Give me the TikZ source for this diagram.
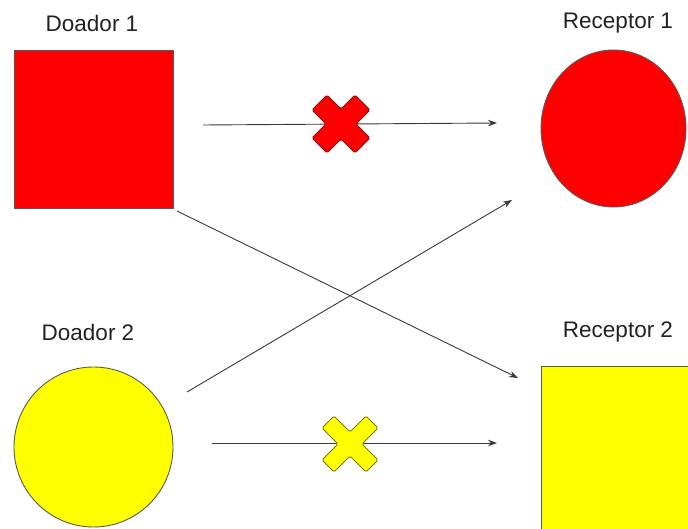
\documentclass[tikz,border=0pt]{standalone}
\usepackage{fontspec}
\setmainfont{Liberation Sans}
\usetikzlibrary{arrows.meta,shapes.geometric}
\definecolor{edgegray}{HTML}{5A5A5A}
\definecolor{arrowgray}{HTML}{3A3A3A}
\definecolor{xredborder}{HTML}{8A1010}
\definecolor{xyelborder}{HTML}{7A7A10}
\definecolor{txt}{HTML}{222222}
\definecolor{pured}{RGB}{255,0,0}
\definecolor{puryellow}{RGB}{255,255,0}
\begin{document}
\begin{tikzpicture}[x=1pt,y=-1pt,
  shapebox/.style={rectangle,draw=edgegray,line width=0.9pt,inner sep=0pt},
  shapecirc/.style={ellipse,draw=edgegray,line width=0.9pt,inner sep=0pt},
  lbl/.style={text=txt,font=\fontsize{22.5}{27}\selectfont,inner sep=0pt},
  conn/.style={draw=arrowgray,line width=0.9pt,-{Stealth[length=9pt,width=6.5pt]}},
  xred/.style={fill=pured,draw=xredborder,line width=1pt,rounded corners=1.5pt},
  xyel/.style={fill=puryellow,draw=xyelborder,line width=1pt,rounded corners=1.5pt}]
\fill[white] (0,0) rectangle (688,529);

% shapes
\node[shapebox,fill=pured,minimum width=159pt,minimum height=158pt] (d1) at (93.5,129) {};
\node[shapecirc,fill=pured,minimum width=145pt,minimum height=157pt] (r1) at (613.5,128.5) {};
\node[shapecirc,fill=puryellow,minimum width=159pt,minimum height=160pt] (d2) at (93.5,447) {};
\begin{pgfinterruptboundingbox}
\node[shapebox,fill=puryellow,minimum width=200pt,minimum height=200pt] (r2) at (641,466) {};
\end{pgfinterruptboundingbox}

% labels
\node[lbl] (l1) at (92,23) {Doador 1};
\node[lbl] (l2) at (618,23) {Receptor 1};
\node[lbl] (l3) at (88,332) {Doador 2};
\node[lbl] (l4) at (618,332) {Receptor 2};

% connector end points
\coordinate (a1s) at (203,125);
\coordinate (a1e) at (497,123);
\coordinate (a2s) at (212,443);
\coordinate (a2e) at (497,443);
\coordinate (a3s) at (177,211);
\coordinate (a3e) at (518,378);
\coordinate (a4s) at (187,392);
\coordinate (a4e) at (512,200);

\draw[conn] (a1s) -- (a1e);
\draw[conn] (a2s) -- (a2e);
\draw[conn] (a3s) -- (a3e);
\draw[conn] (a4s) -- (a4e);

% crosses
\draw[xred,shift={(341,124)}] (-29,-14) -- (-14,-29) -- (0,-15) -- (14,-29) -- (29,-14) -- (15,0) -- (29,14) -- (14,29) -- (0,15) -- (-14,29) -- (-29,14) -- (-15,0) -- cycle;
\draw[xyel,shift={(350,444)}] (-28,-16) -- (-16,-28) -- (0,-12) -- (16,-28) -- (28,-16) -- (12,0) -- (28,16) -- (16,28) -- (0,12) -- (-16,28) -- (-28,16) -- (-12,0) -- cycle;
\useasboundingbox (0,0) rectangle (688,529);
\end{tikzpicture}
\end{document}
